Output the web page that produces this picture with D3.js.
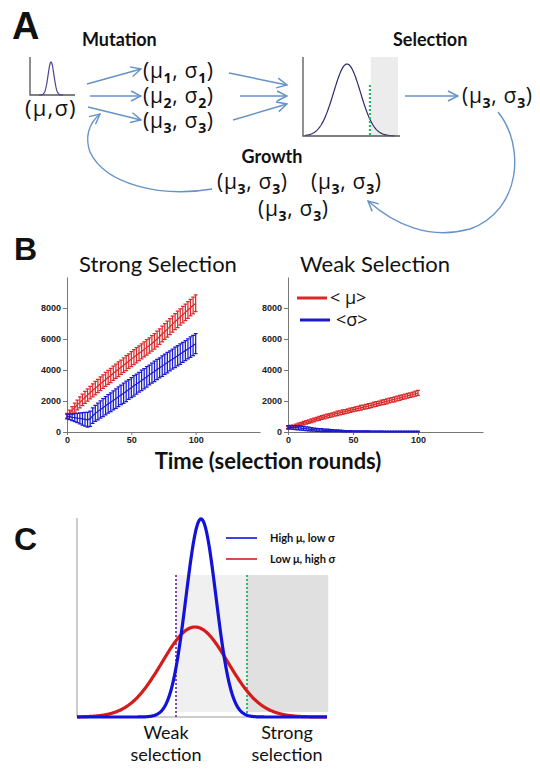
<!DOCTYPE html>
<html>
<head>
<meta charset="utf-8">
<script src="https://cdn.jsdelivr.net/npm/d3@7"></script>
<style>
  html, body { margin: 0; padding: 0; background: #fff; }
  svg { display: block; }
  text { font-family: Lato, "Open Sans", sans-serif; fill: #111; }
  .letter { font-family: "Liberation Sans", Arial, sans-serif; font-weight: bold; }
  .greek { font-family: "Open Sans", sans-serif; }
  .axis path, .axis line { stroke: #777; }
  .axis .tick text { font-family: "Liberation Sans", Arial, sans-serif; font-weight: bold; font-size: 9px; fill: #222; }
</style>
</head>
<body>
<svg id="fig" width="540" height="769"></svg>
<script>
// ---- panel B: mean of mu and sigma per selection round (every 2nd round) ----
const rounds = [0, 2, 4, 6, 8, 10, 12, 14, 16, 18, 20, 22, 24, 26, 28, 30, 32, 34, 36, 38,
  40, 42, 44, 46, 48, 50, 52, 54, 56, 58, 60, 62, 64, 66, 68, 70, 72, 74, 76, 78,
  80, 82, 84, 86, 88, 90, 92, 94, 96, 98, 100];

const strongMu = [1050, 1210, 1390, 1570, 1740, 1910, 2070, 2230, 2390, 2540,
  2690, 2830, 2970, 3110, 3250, 3390, 3520, 3650, 3790, 3920,
  4050, 4180, 4310, 4440, 4570, 4700, 4830, 4950, 5080, 5200,
  5330, 5460, 5580, 5710, 5850, 6000, 6160, 6320, 6480, 6640,
  6800, 6960, 7120, 7270, 7420, 7570, 7720, 7870, 8020, 8160, 8300];
const strongMuErr = [150, 200, 250, 290, 320, 350, 370, 390, 400, 410,
  420, 430, 430, 440, 440, 450, 450, 460, 460, 460,
  470, 460, 470, 480, 470, 480, 480, 490, 480, 490,
  490, 500, 490, 500, 500, 510, 500, 510, 510, 520,
  510, 520, 520, 530, 520, 530, 530, 540, 530, 540, 540];
const strongSigma = [1000, 980, 950, 930, 900, 880, 850, 820, 790, 860,
  1050, 1200, 1330, 1450, 1570, 1690, 1810, 1920, 2040, 2150,
  2270, 2390, 2500, 2620, 2740, 2860, 2980, 3090, 3210, 3330,
  3440, 3560, 3680, 3800, 3910, 4030, 4140, 4250, 4370, 4480,
  4590, 4700, 4810, 4920, 5030, 5140, 5250, 5360, 5470, 5580, 5700];
const strongSigmaErr = [150, 180, 220, 260, 300, 350, 400, 440, 480, 490,
  500, 520, 540, 560, 580, 590, 600, 610, 620, 630,
  640, 630, 650, 660, 640, 650, 660, 650, 640, 660,
  650, 660, 640, 650, 660, 650, 640, 660, 650, 660,
  650, 640, 660, 650, 660, 650, 640, 650, 660, 650, 650];

const weakMu = [300, 330, 370, 420, 470, 520, 570, 620, 670, 720,
  780, 830, 880, 930, 980, 1030, 1070, 1110, 1160, 1200,
  1240, 1280, 1320, 1360, 1400, 1440, 1480, 1520, 1560, 1600,
  1640, 1680, 1720, 1770, 1810, 1850, 1900, 1940, 1980, 2030,
  2070, 2110, 2160, 2200, 2250, 2290, 2340, 2380, 2420, 2470, 2520];
const weakMuErr = [60, 70, 80, 90, 100, 100, 110, 110, 110, 120,
  120, 120, 130, 120, 130, 130, 120, 130, 130, 140,
  130, 140, 130, 140, 140, 130, 140, 140, 150, 140,
  140, 150, 140, 150, 150, 140, 150, 150, 160, 150,
  150, 160, 150, 160, 150, 160, 160, 150, 160, 160, 160];
const weakSigma = [300, 300, 290, 280, 270, 250, 230, 210, 190, 170,
  150, 140, 130, 120, 110, 100, 95, 90, 85, 80,
  70, 60, 55, 50, 50, 45, 45, 40, 40, 40,
  40, 40, 35, 35, 35, 35, 35, 30, 30, 30,
  30, 30, 30, 30, 30, 30, 30, 30, 30, 30, 30];
const weakSigmaErr = [110, 120, 120, 130, 130, 130, 130, 120, 120, 110,
  100, 100, 90, 90, 80, 80, 70, 70, 60, 60,
  50, 45, 40, 40, 35, 35, 30, 30, 30, 30,
  30, 30, 25, 25, 25, 25, 25, 25, 25, 25,
  25, 25, 25, 25, 25, 25, 25, 25, 25, 25, 25];

const yTicks = [0, 2000, 4000, 6000, 8000];
const xTicks = [0, 50, 100];
const panelTitles = ["Strong Selection", "Weak Selection"];
const seriesLabels = ["< μ>", "<σ>"];
const seriesColors = ["#d82a2a", "#1a1ad0"];

// ---- panel C: the two fitness distributions ----
const distLabels = ["High μ, low σ", "Low μ, high σ"];
const distMeans = [4.96, 4.72];
const distSds = [0.6, 1.32];
const distColors = ["#1212d8", "#d41c1c"];
const cutoffs = [3.96, 6.8]; // weak, strong
const cutoffLabels = [["Weak", "selection"], ["Strong", "selection"]];

// ---- panel A: schematic ----
const stageLabels = ["Mutation", "Selection", "Growth"];
const mutantIndex = ["1", "2", "3"];

const svg = d3.select("#fig");
const arrowColor = "#6493c8";

const pdf = (x, m, s) => Math.exp(-0.5 * ((x - m) / s) ** 2) / (s * Math.sqrt(2 * Math.PI));

svg.append("defs")
  .append("marker")
  .attr("id", "chev")
  .attr("viewBox", "0 0 12 12")
  .attr("refX", 11)
  .attr("refY", 6)
  .attr("markerWidth", 12)
  .attr("markerHeight", 12)
  .attr("markerUnits", "userSpaceOnUse")
  .attr("orient", "auto")
  .append("path")
  .attr("d", "M1,1 L11,6 L1,11")
  .attr("fill", "none")
  .attr("stroke", arrowColor)
  .attr("stroke-width", 1.4);

function panelLetter(t, x, y, size) {
  svg.append("text").attr("class", "letter").attr("x", x).attr("y", y)
    .style("font-size", size + "px").text(t);
}

// (mu_i, sigma_i) with subscripts
function tuple(x, y, sub) {
  const t = svg.append("text").attr("class", "greek").attr("x", x).attr("y", y)
    .style("font-size", "21px").style("letter-spacing", "0.7px");
  t.append("tspan").text("(μ");
  t.append("tspan").attr("dy", 5).style("font-size", "14px").style("font-weight", "bold").text(sub);
  t.append("tspan").attr("dy", -5).text(", σ");
  t.append("tspan").attr("dy", 5).style("font-size", "14px").style("font-weight", "bold").text(sub);
  t.append("tspan").attr("dy", -5).text(")");
}

// ================= A =================
panelLetter("A", 12, 39, 38);

svg.append("text").attr("x", 82).attr("y", 46).style("font-size", "18px")
  .style("font-weight", "bold").text(stageLabels[0]);
svg.append("text").attr("x", 393).attr("y", 46).style("font-size", "18px")
  .style("font-weight", "bold").text(stageLabels[1]);
svg.append("text").attr("x", 272).attr("y", 163).attr("text-anchor", "middle")
  .style("font-size", "18px").style("font-weight", "bold").text(stageLabels[2]);

// parent distribution
{
  const xp = d3.scaleLinear([0, 1], [30, 75]);
  const yp = d3.scaleLinear([0, pdf(0.467, 0.467, 0.065)], [95, 62]);
  svg.append("path").attr("d", `M${xp(0)},${yp.range()[1] - 5}V${yp(0)}H${xp(1)}`)
    .attr("fill", "none").attr("stroke", "#555").attr("stroke-width", 1.3);
  svg.append("path")
    .datum(d3.range(0.2, 0.75, 0.01))
    .attr("d", d3.line().x((d) => xp(d)).y((d) => yp(pdf(d, 0.467, 0.065))))
    .attr("fill", "none").attr("stroke", "#50428f").attr("stroke-width", 1.2);
  svg.append("text").attr("class", "greek").attr("x", 25).attr("y", 116)
    .style("font-size", "22px").style("letter-spacing", "1.2px").text("(μ,σ)");
}

// mutants
const rowY = [78, 103, 128];
mutantIndex.forEach((s, i) => tuple(143, rowY[i], s));

const arrows = [
  [87, 84, 141, 69], [90, 96, 141, 96], [88, 107, 141, 120],
  [229, 73, 287, 85], [240, 96, 287, 96], [233, 120, 287, 104],
  [405, 96, 458, 96],
];
arrows.forEach(([x1, y1, x2, y2]) => {
  svg.append("line").attr("x1", x1).attr("y1", y1).attr("x2", x2).attr("y2", y2)
    .attr("stroke", arrowColor).attr("stroke-width", 1.4).attr("marker-end", "url(#chev)");
});

// selection inset
{
  const xs = d3.scaleLinear([0, 1], [303, 400]);
  const ys = d3.scaleLinear([0, pdf(0.454, 0.454, 0.138)], [136, 64]);
  svg.append("rect").attr("x", xs(0.7)).attr("y", 57).attr("width", xs(0.98) - xs(0.7))
    .attr("height", 136 - 57).attr("fill", "#ececec");
  svg.append("path")
    .datum(d3.range(0.02, 0.95, 0.005))
    .attr("d", d3.line().x((d) => xs(d)).y((d) => ys(pdf(d, 0.454, 0.138))))
    .attr("fill", "none").attr("stroke", "#2a2a6e").attr("stroke-width", 1.2);
  svg.append("line").attr("x1", xs(0.69)).attr("x2", xs(0.69)).attr("y1", 85).attr("y2", 136)
    .attr("stroke", "#2fb36a").attr("stroke-width", 2.2).attr("stroke-dasharray", "2,2");
  svg.append("path").attr("d", `M${xs(0)},57V136H${xs(1)}`)
    .attr("fill", "none").attr("stroke", "#555").attr("stroke-width", 1.3);
}

tuple(462, 103, "3");
tuple(217, 189, "3");
tuple(311, 189, "3");
tuple(258, 216, "3");

// curved feedback arrows
svg.append("path")
  .attr("d", "M498,112 C525,145 522,210 470,229 C430,240 395,225 368,201")
  .attr("fill", "none").attr("stroke", arrowColor).attr("stroke-width", 1.4)
  .attr("marker-end", "url(#chev)");
svg.append("path")
  .attr("d", "M212,189 C160,198 105,184 90,152 C85,138 88,124 100,114")
  .attr("fill", "none").attr("stroke", arrowColor).attr("stroke-width", 1.4)
  .attr("marker-end", "url(#chev)");

// ================= B =================
panelLetter("B", 14, 260, 32);

const yB = d3.scaleLinear([0, 10000], [432, 277]);
const plots = [
  { x: d3.scaleLinear([0, 150], [67, 260]), mu: strongMu, muErr: strongMuErr, sig: strongSigma, sigErr: strongSigmaErr },
  { x: d3.scaleLinear([0, 150], [288, 483]), mu: weakMu, muErr: weakMuErr, sig: weakSigma, sigErr: weakSigmaErr },
];

function errorSeries(g, x, mean, err, color) {
  const cap = 1.9;
  const pts = rounds.map((r, i) => ({ r, m: mean[i], e: err[i] }));
  const bars = g.append("g").attr("stroke", color).attr("stroke-width", 1.25).attr("fill", "none");
  bars.selectAll("path").data(pts).join("path")
    .attr("d", (d) => {
      const cx = x(d.r), lo = yB(d.m - d.e), hi = yB(d.m + d.e);
      return `M${cx},${lo}V${hi}M${cx - cap},${lo}H${cx + cap}M${cx - cap},${hi}H${cx + cap}`;
    });
  g.append("path").datum(pts)
    .attr("d", d3.line().x((d) => x(d.r)).y((d) => yB(d.m)))
    .attr("fill", "none").attr("stroke", color).attr("stroke-width", 1.2);
}

plots.forEach((p, k) => {
  const g = svg.append("g");
  g.append("text").attr("x", k === 0 ? 158 : 375).attr("y", 272)
    .attr("text-anchor", "middle").style("font-size", "22px").text(panelTitles[k]);

  g.append("g").attr("class", "axis").attr("transform", `translate(0,${yB(0)})`)
    .call(d3.axisBottom(p.x).tickValues(xTicks).tickSize(3).tickPadding(2).tickSizeOuter(0));
  g.append("g").attr("class", "axis").attr("transform", `translate(${p.x(0)},0)`)
    .call(d3.axisLeft(yB).tickValues(yTicks).tickFormat(d3.format("d"))
      .tickSize(4).tickPadding(2).tickSizeOuter(0));

  errorSeries(g, p.x, p.mu, p.muErr, seriesColors[0]);
  errorSeries(g, p.x, p.sig, p.sigErr, seriesColors[1]);
});

// legend (weak panel)
{
  const lg = svg.append("g");
  const ly = [298, 320];
  const lx = [[297, 327], [300, 330]];
  seriesLabels.forEach((s, i) => {
    lg.append("line").attr("x1", lx[i][0]).attr("x2", lx[i][1]).attr("y1", ly[i]).attr("y2", ly[i])
      .attr("stroke", seriesColors[i]).attr("stroke-width", 3);
    lg.append("text").attr("class", "greek").attr("x", lx[i][1] + (i === 0 ? 3 : 6)).attr("y", ly[i] + 6)
      .style("font-size", "18px").text(s);
  });
}

svg.append("text").attr("x", 268).attr("y", 469).attr("text-anchor", "middle")
  .style("font-size", "22px").style("font-weight", "bold").text("Time (selection rounds)");

// ================= C =================
panelLetter("C", 14, 550, 32);
{
  const xC = d3.scaleLinear([0, 10], [77, 327]);
  const peak = pdf(distMeans[0], distMeans[0], distSds[0]);
  const yC = d3.scaleLinear([0, peak], [717, 519]);
  const shadeTop = yC(peak * 0.717);
  const shadeBottom = yC(peak * 0.025);

  svg.append("rect").attr("x", xC(cutoffs[0])).attr("y", shadeTop)
    .attr("width", xC(cutoffs[1]) - xC(cutoffs[0])).attr("height", shadeBottom - shadeTop)
    .attr("fill", "#f0f0f0");
  svg.append("rect").attr("x", xC(cutoffs[1])).attr("y", shadeTop)
    .attr("width", xC(10.05) - xC(cutoffs[1])).attr("height", shadeBottom - shadeTop)
    .attr("fill", "#e0e0e0");

  svg.append("path").attr("d", `M${xC(0)},518V${yC(0)}H${xC(10)}`)
    .attr("fill", "none").attr("stroke", "#999").attr("stroke-width", 1);

  const cutColors = ["#7d4ea6", "#35b56c"];
  cutoffs.forEach((c, i) => {
    svg.append("line").attr("x1", xC(c)).attr("x2", xC(c)).attr("y1", shadeTop).attr("y2", yC(0))
      .attr("stroke", cutColors[i]).attr("stroke-width", 2).attr("stroke-dasharray", "2,2");
  });

  const grid = d3.range(0, 10.001, 0.02);
  [1, 0].forEach((k) => {
    svg.append("path").datum(grid)
      .attr("d", d3.line().x((d) => xC(d)).y((d) => yC(pdf(d, distMeans[k], distSds[k]))))
      .attr("fill", "none").attr("stroke", distColors[k]).attr("stroke-width", 3.2);
  });

  // legend
  const legY = [538, 559];
  distLabels.forEach((s, i) => {
    svg.append("line").attr("x1", 226).attr("x2", 257).attr("y1", legY[i]).attr("y2", legY[i])
      .attr("stroke", distColors[i]).attr("stroke-width", 1.6);
    svg.append("text").attr("x", 270).attr("y", legY[i] + 4).style("font-size", "11px")
      .style("font-weight", "bold").text(s);
  });

  const labelX = [166, 287];
  cutoffLabels.forEach((lines, i) => {
    lines.forEach((s, j) => {
      svg.append("text").attr("x", labelX[i]).attr("y", 739 + j * 22).attr("text-anchor", "middle")
        .style("font-size", "18px").text(s);
    });
  });
}
</script>
</body>
</html>
